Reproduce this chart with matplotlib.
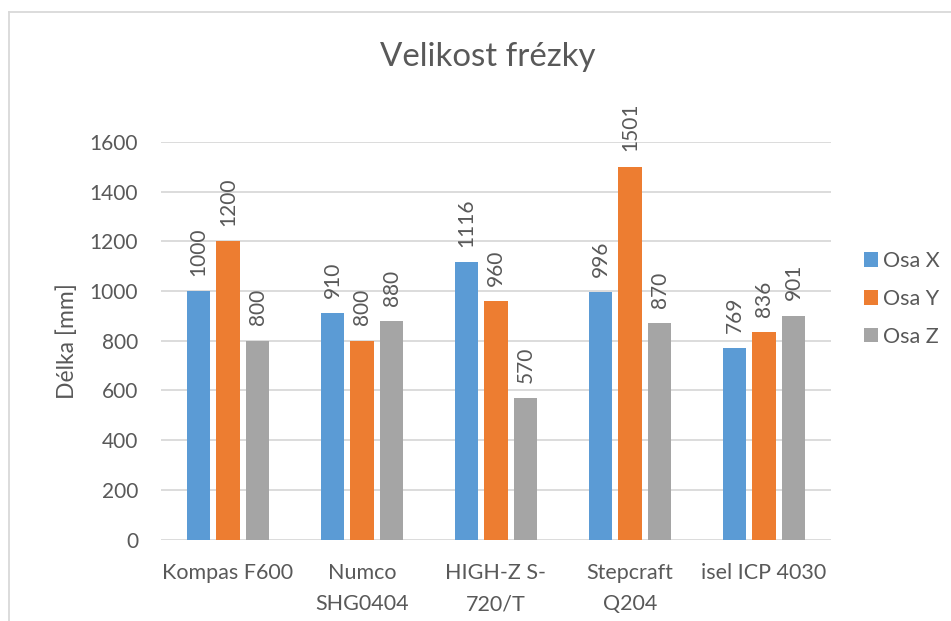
import matplotlib
matplotlib.use("Agg")
import matplotlib.pyplot as plt
from matplotlib.lines import Line2D
import numpy as np

categories = ["Kompas F600", "Numco\nSHG0404", "HIGH-Z S-\n720/T", "Stepcraft\nQ204", "isel ICP 4030"]
series_names = ["Osa X", "Osa Y", "Osa Z"]
osa_x = [1000, 910, 1116, 996, 769]
osa_y = [1200, 800, 960, 1501, 836]
osa_z = [800, 880, 570, 870, 901]
yticks = [0, 200, 400, 600, 800, 1000, 1200, 1400, 1600]

colors = ["#5B9BD5", "#ED7D31", "#A5A5A5"]
txt = "#595959"
grid = "#D9D9D9"

plt.rcParams['font.family'] = ['Lato', 'DejaVu Sans']

W, H = 951, 621
fig = plt.figure(figsize=(W / 100, H / 100), dpi=100)
ax = fig.add_axes([161 / W, 1 - 539.5 / H, (831 - 161) / W, (539.5 - 142) / H])

x = np.arange(len(categories))
width = 0.174
step = 0.221
for i, (name, vals) in enumerate(zip(series_names, [osa_x, osa_y, osa_z])):
    pos = x + (i - 1) * step
    ax.bar(pos, vals, width, color=colors[i], label=name, zorder=3)
    for p, v in zip(pos, vals):
        ax.annotate(str(v), (p, v), xytext=(0, 11), textcoords="offset points",
                    rotation=90, ha="center", va="bottom", fontsize=15, color=txt)

ax.set_xlim(-0.5, len(categories) - 0.5)
ax.set_ylim(0, 1600)
ax.set_yticks(yticks)
ax.set_xticks(x)
ax.set_xticklabels(categories, fontsize=15.5, color=txt, linespacing=1.7)
ax.tick_params(axis='y', labelsize=15, labelcolor=txt, length=0, pad=16.5)
ax.tick_params(axis='x', length=0, pad=17)
for s in ax.spines.values():
    s.set_visible(False)
ax.yaxis.grid(True, color=grid, linewidth=1.3, zorder=0)
ax.set_axisbelow(True)

fig.text(67 / W, 1 - 341 / H, "Délka [mm]", rotation=90, ha="center", va="center",
         fontsize=16.5, color=txt)
fig.text(488 / W, 1 - 57 / H, "Velikost frézky", ha="center", va="center", fontsize=23.8, color=txt)

leg = fig.legend(loc="center left", bbox_to_anchor=(864 / W, 1 - 299 / H), frameon=False,
                 fontsize=15.5, labelcolor=txt, handlelength=0.65, handleheight=0.65,
                 handletextpad=0.25, labelspacing=0.83, borderpad=0, borderaxespad=0)

# chart area border (top and left visible)
fig.add_artist(Line2D([8.5 / W, 8.5 / W], [0, 1 - 12 / H], color=grid, linewidth=1.3, transform=fig.transFigure))
fig.add_artist(Line2D([8.5 / W, 1], [1 - 12 / H, 1 - 12 / H], color=grid, linewidth=1.3, transform=fig.transFigure))

fig.savefig("out.png", dpi=100)
